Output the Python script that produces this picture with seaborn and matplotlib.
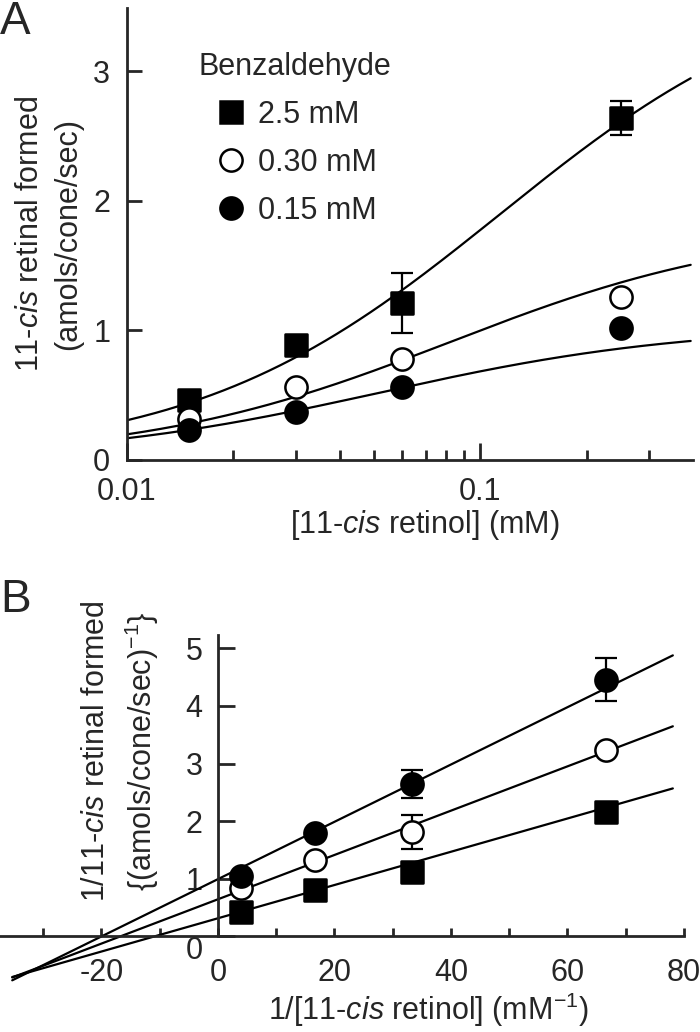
import numpy as np
import matplotlib
matplotlib.use("Agg")
import matplotlib.pyplot as plt
import seaborn as sns
from matplotlib.lines import Line2D
from matplotlib.ticker import NullFormatter

sns.set_style("ticks")
plt.rcParams['font.family'] = ['Liberation Sans', 'DejaVu Sans']
plt.rcParams['mathtext.fontset'] = 'custom'
plt.rcParams['mathtext.rm'] = 'Liberation Sans'
plt.rcParams['mathtext.it'] = 'Liberation Sans:italic'

# ---- data ----
labels = ['2.5 mM', '0.30 mM', '0.15 mM']
markers = ['s', 'o', 'o']
faces = ['black', 'white', 'black']

# panel A: rate vs [11-cis retinol]
conc = [0.015, 0.03, 0.06, 0.25]
rate_25 = [0.46, 0.89, 1.21, 2.64]
rate_030 = [0.32, 0.56, 0.78, 1.26]
rate_015 = [0.23, 0.37, 0.56, 1.02]
err_25 = [0, 0, 0.23, 0.13]
# Michaelis-Menten fit parameters for the curves
vmax = [3.80, 1.82, 1.04]
km = [0.114, 0.082, 0.052]

# panel B: double reciprocal (x = 1/[retinol], increasing)
inv_conc = [4.0, 16.7, 33.3, 66.7]
inv_25 = [0.42, 0.80, 1.11, 2.15]
inv_030 = [0.83, 1.32, 1.81, 3.23]
inv_015 = [1.05, 1.79, 2.64, 4.46]
err_inv_030 = [0, 0, 0.30, 0]
err_inv_015 = [0, 0, 0.24, 0.37]
# Lineweaver-Burk line parameters
lb_intercept = [0.31, 0.64, 0.99]
lb_slope = [0.0289, 0.0385, 0.0498]

rates = [rate_25, rate_030, rate_015]
inv_rates = [inv_25, inv_030, inv_015]

fs = 22
ms = 16

fig = plt.figure(figsize=(7, 10.32), dpi=100)

# ================= panel A =================
axA = fig.add_axes([0.1814, 0.5543, 0.8086, 0.438])
xs = np.logspace(-2, np.log10(0.394), 200)
for v, k in zip(vmax, km):
    sns.lineplot(x=xs, y=v * xs / (k + xs), color='black', lw=1.6, ax=axA, zorder=2)

axA.errorbar(conc, rate_25, yerr=err_25, fmt='none', ecolor='black',
             elinewidth=1.6, capsize=8, capthick=1.6, zorder=3)
for r, m, fc in zip(rates, markers, faces):
    sns.scatterplot(x=conc, y=r, marker=m, s=ms**2, color=fc, edgecolor='black',
                    linewidth=1.8, ax=axA, zorder=4)

axA.set_xscale('log')
axA.set_xlim(0.01, 0.40)
axA.set_ylim(0, 3.49)
axA.set_xticks([0.01, 0.1], ['0.01', '0.1'])
axA.set_xticks([0.02, 0.03, 0.04, 0.05, 0.06, 0.07, 0.08, 0.09, 0.2, 0.3], minor=True)
axA.xaxis.set_minor_formatter(NullFormatter())
axA.set_yticks([0, 1, 2, 3], ['0', '1', '2', '3'])
axA.tick_params(axis='x', which='major', direction='in', length=12, width=2, pad=12, labelsize=fs)
axA.tick_params(axis='x', which='minor', direction='in', length=7, width=2)
axA.tick_params(axis='y', direction='in', length=11, width=2, pad=12, labelsize=fs)
for s in ['top', 'right']:
    axA.spines[s].set_visible(False)
for s in ['left', 'bottom']:
    axA.spines[s].set_linewidth(2)

axA.set_ylabel('11-$\\mathit{cis}$ retinal formed\n(amols/cone/sec)', fontsize=fs,
               va='center', linespacing=1.35)
axA.yaxis.set_label_coords(-0.138, 0.5)
axA.set_xlabel('[11-$\\mathit{cis}$ retinol] (mM)', fontsize=fs, va='center')
axA.xaxis.set_label_coords(0.527, -0.143)

handles = [Line2D([], [], ls='none', marker=m, markersize=ms, markerfacecolor=fc,
                  markeredgecolor='black', markeredgewidth=1.8)
           for m, fc in zip(markers, faces)]
leg = axA.legend(handles, labels, title='Benzaldehyde', loc='upper left',
                 bbox_to_anchor=(0.127, 0.903), frameon=False, fontsize=fs,
                 title_fontsize=fs, borderpad=0, borderaxespad=0, handlelength=2.1,
                 handletextpad=-0.15, labelspacing=0.59)
leg._legend_box.align = 'left'

fig.text(0.0, 1.0, 'A', fontsize=33, ha='left', va='top')

# ================= panel B =================
axB = fig.add_axes([0.0, 0.0455, 0.977, 0.339])
xl = np.array([-35.3, 78.1])
for b, sl in zip(lb_intercept, lb_slope):
    sns.lineplot(x=xl, y=b + sl * xl, color='black', lw=1.6, ax=axB, zorder=2)

axB.errorbar(inv_conc, inv_030, yerr=err_inv_030, fmt='none', ecolor='black',
             elinewidth=1.6, capsize=8, capthick=1.6, zorder=3)
axB.errorbar(inv_conc, inv_015, yerr=err_inv_015, fmt='none', ecolor='black',
             elinewidth=1.6, capsize=8, capthick=1.6, zorder=3)
for r, m, fc in zip(inv_rates, markers, faces):
    sns.scatterplot(x=inv_conc, y=r, marker=m, s=ms**2, color=fc, edgecolor='black',
                    linewidth=1.8, ax=axB, zorder=4)

axB.set_xlim(-37.4, 80)
axB.set_ylim(-0.85, 5.23)
axB.spines['bottom'].set_position(('data', 0))
axB.spines['left'].set_position(('data', 0))
axB.spines['left'].set_bounds(0, 5.23)
for s in ['top', 'right']:
    axB.spines[s].set_visible(False)
for s in ['left', 'bottom']:
    axB.spines[s].set_linewidth(2)
axB.set_xticks([-20, 0, 20, 40, 60, 80], ['-20', '0', '20', '40', '60', '80'])
axB.set_xticks([-30, -10, 10, 30, 50, 70], minor=True)
axB.xaxis.set_minor_formatter(NullFormatter())
axB.set_yticks([0, 1, 2, 3, 4, 5], ['0', '1', '2', '3', '4', '5'])
axB.tick_params(axis='x', which='both', direction='in', length=6, width=2, pad=16, labelsize=fs)
axB.tick_params(axis='y', direction='in', length=12, width=2, pad=11, labelsize=fs)
axB.get_yticklabels()[0].set_va('top')

axB.set_ylabel('1/11-$\\mathit{cis}$ retinal formed\n{(amols/cone/sec)$^{-1}$}', fontsize=fs,
               va='center', linespacing=1.4)
axB.yaxis.set_label_coords(0.177, 0.669)
axB.set_xlabel('1/[11-$\\mathit{cis}$ retinol] (mM$^{-1}$)', fontsize=fs, va='center')
axB.xaxis.set_label_coords(0.626, -0.071)

fig.text(0.0, 0.44, 'B', fontsize=33, ha='left', va='top')

fig.savefig('out.png', dpi=100)
